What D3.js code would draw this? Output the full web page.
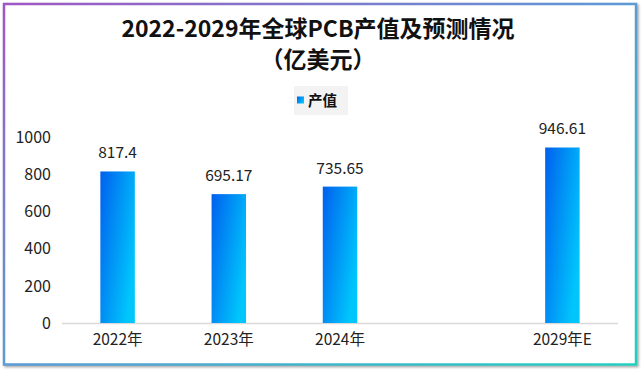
<!DOCTYPE html>
<html>
<head>
<meta charset="utf-8">
<script src="https://cdn.jsdelivr.net/npm/d3@7"></script>
<style>
  html, body { margin: 0; padding: 0; background: #ffffff; }
  svg { display: block; }
  text { font-family: "Microsoft YaHei", "Noto Sans CJK SC", "Noto Sans", sans-serif; }
</style>
</head>
<body>
<svg id="chart" width="641" height="370"></svg>
<script>
const categories = ["2022年", "2023年", "2024年", "", "2029年E"];
const values = [817.4, 695.17, 735.65, null, 946.61];
const valueLabels = ["817.4", "695.17", "735.65", "", "946.61"];
const yTicks = [0, 200, 400, 600, 800, 1000];
const seriesName = "产值";
const titleLines = ["2022-2029年全球PCB产值及预测情况", "（亿美元）"];

const svg = d3.select("#chart");
const defs = svg.append("defs");

const bg = defs.append("linearGradient").attr("id", "borderGrad")
  .attr("x1", "0%").attr("y1", "0%").attr("x2", "100%").attr("y2", "100%");
bg.append("stop").attr("offset", "0%").attr("stop-color", "#a057c4");
bg.append("stop").attr("offset", "50%").attr("stop-color", "#5b9bd5");
bg.append("stop").attr("offset", "100%").attr("stop-color", "#22d0c0");

const barGrad = defs.append("linearGradient").attr("id", "barGrad")
  .attr("x1", "0%").attr("y1", "0%").attr("x2", "100%").attr("y2", "60%");
barGrad.append("stop").attr("offset", "0%").attr("stop-color", "#0060ee");
barGrad.append("stop").attr("offset", "100%").attr("stop-color", "#00c6fc");

const filt = defs.append("filter").attr("id", "shadow")
  .attr("x", "-5%").attr("y", "-5%").attr("width", "110%").attr("height", "110%");
filt.append("feDropShadow").attr("dx", 1.5).attr("dy", 1.5).attr("stdDeviation", 0.8)
  .attr("flood-color", "#808080").attr("flood-opacity", 0.7);

// frame
svg.append("rect").attr("x", 4).attr("y", 4).attr("width", 632).attr("height", 360.5)
  .attr("fill", "#ffffff").attr("stroke", "url(#borderGrad)").attr("stroke-width", 2.5)
  .attr("filter", "url(#shadow)");

// title
svg.append("g").selectAll("text").data(titleLines).join("text")
  .attr("x", 318).attr("y", (d, i) => 37 + i * 31)
  .attr("text-anchor", "middle")
  .attr("font-size", 23).attr("font-weight", "bold").attr("fill", "#111111")
  .text(d => d);

// legend
const lg = svg.append("g");
lg.append("rect").attr("x", 294).attr("y", 86).attr("width", 54).attr("height", 29)
  .attr("fill", "#f3f3f3");
lg.append("rect").attr("x", 297).attr("y", 96.5).attr("width", 7).attr("height", 7)
  .attr("fill", "url(#barGrad)");
lg.append("text").attr("x", 308).attr("y", 106).attr("font-size", 14.5)
  .attr("font-weight", "bold").attr("fill", "#111111").text(seriesName);

// scales
const x = d3.scaleBand().domain(categories.map((d, i) => i)).range([62, 618])
  .paddingInner(0.69).paddingOuter(0.345);
const y = d3.scaleLinear().domain([0, 1000]).range([323, 137.6]);

// y axis
const yAxis = svg.append("g")
  .call(d3.axisLeft(y).tickValues(yTicks).tickSize(0).tickPadding(0).tickFormat(d3.format("d")));
yAxis.select(".domain").remove();
yAxis.selectAll("text").attr("x", 51).attr("font-size", 16).attr("fill", "#222222")
  .attr("font-family", "\"Microsoft YaHei\", \"Noto Sans CJK SC\", sans-serif");

// x axis
const xAxis = svg.append("g").attr("transform", "translate(0,323)")
  .call(d3.axisBottom(x).tickSize(0).tickPadding(11).tickFormat(i => categories[i]));
xAxis.select(".domain").attr("stroke", "#d9d9d9").attr("stroke-width", 1.5)
  .attr("d", "M62,0.5H618");
xAxis.selectAll("text").attr("font-size", 15.5).attr("fill", "#222222")
  .attr("font-family", "\"Microsoft YaHei\", \"Noto Sans CJK SC\", sans-serif");

// bars
const barData = values.map((v, i) => ({ i, v })).filter(d => d.v !== null);
svg.append("g").selectAll("rect").data(barData).join("rect")
  .attr("x", d => x(d.i)).attr("width", x.bandwidth())
  .attr("y", d => y(d.v)).attr("height", d => y(0) - y(d.v))
  .attr("fill", "url(#barGrad)");

// value labels
svg.append("g").selectAll("text").data(barData).join("text")
  .attr("x", d => x(d.i) + x.bandwidth() / 2).attr("y", d => y(d.v) - 13)
  .attr("text-anchor", "middle").attr("font-size", 15.5).attr("fill", "#222222")
  .text(d => valueLabels[d.i]);
</script>
</body>
</html>
